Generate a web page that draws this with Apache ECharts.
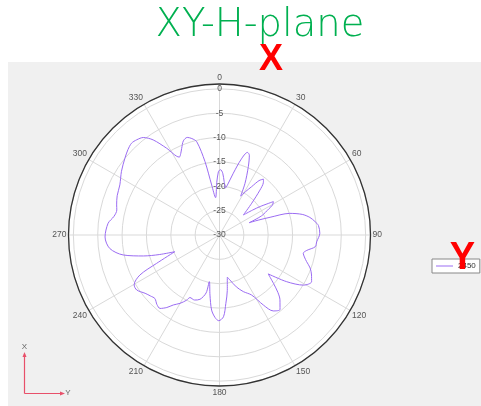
<!DOCTYPE html>
<html>
<head>
<meta charset="utf-8">
<script src="https://cdn.jsdelivr.net/npm/echarts@6/dist/echarts.min.js"></script>
<style>
html,body{margin:0;padding:0;background:#fff;}
#chart{width:481px;height:406px;}
</style>
</head>
<body>
<div id="chart"></div>
<script>
// Pattern angles (degrees, clockwise from top) and gain (dB) for 2450 MHz
const angles = [0,1,3,5,7,9,12.6,16,18.7,20.5,22.9,26.3,28.5,31,33.6,36,38.2,40,42,45.4,50,53,55,58.2,60.5,62,65.5,67.5,69,70.7,72.9,76,79,82,84.5,89,94,97,100,102.3,104.5,107,110,113.5,116.9,120.8,124.8,128.6,131.9,134.5,137,140.9,144.7,147.9,151.8,157.2,162,166.9,169.5,172,174.7,177.2,180.5,183,186,189,192.3,193,196.9,201,205.3,206.8,210,213.4,216,219,222,225.5,228.5,231.9,236.4,239.7,243.3,245.7,249.5,252,254.6,258.3,263,269,276,280,283.7,286.3,291,296.7,303,309,313,316.2,319,322,325.1,328.6,332.7,334.5,336.4,339,341.7,344,346.3,348.8,351.1,354,357,359,360];
const gain2450 = [-16.7,-16.6,-17.3,-19.0,-20.3,-19.6,-17,-13.8,-12.1,-12.5,-14.8,-18.2,-20.9,-19.6,-18.1,-16.2,-15.4,-16.0,-17.6,-20.7,-23.6,-21.5,-19.8,-17,-17.5,-18.5,-20.5,-23.4,-21.5,-19,-14.9,-12.5,-11.1,-10.2,-9.6,-9.4,-10,-10.2,-11.8,-12.4,-12.0,-11.3,-10.2,-9.4,-8.8,-9.9,-13.2,-17.2,-15.1,-13.2,-11.8,-10.3,-10.9,-13,-16,-17.4,-18.8,-20.5,-21.2,-18.5,-15.9,-13.2,-12.4,-13,-14.5,-17.5,-20.2,-17.8,-16.2,-15.7,-15.8,-15,-13.8,-12.8,-11.6,-10.6,-10.8,-11.4,-11.1,-10.6,-9.6,-9.7,-11.7,-15.8,-20.2,-17,-13.8,-9.8,-7.3,-6.5,-7,-8,-8.3,-8,-7.5,-7.1,-6,-5,-4.3,-3.9,-4.1,-4.6,-6.2,-9.1,-12,-11.5,-10.6,-9.3,-8.9,-9.4,-10.3,-14.6,-19.6,-22.3,-19.2,-17,-16.7];
const seriesName = '2450';
const angleTicks = [0,30,60,90,120,150,180,210,240,270,300,330];
const radiusMin = -30, radiusMax = 1, radiusStep = 5;
const titleText = 'XY-H-plane';

const chart = echarts.init(document.getElementById('chart'), null, {renderer:'canvas'});
const data = angles.map((a,i)=>[gain2450[i], a]);
const cx = 219.5, cy = 235, R = 151;
const option = {
  backgroundColor: '#f0f0f0',
  animation: false,
  polar: { center: [cx, cy], radius: R },
  angleAxis: {
    type: 'value', min: 0, max: 360, interval: 30, startAngle: 90, clockwise: true, z: 1,
    axisLine: { lineStyle: { color: '#333', width: 1.3 } },
    axisTick: { show: false },
    axisLabel: { margin: 2, align: 'center', verticalAlign: 'middle', fontSize: 8.5, color: '#555', fontFamily: 'Liberation Sans',
      formatter: v => angleTicks.indexOf(v) >= 0 ? String(v) : '' },
    splitLine: { lineStyle: { color: '#d9d9d9', width: 1 } }
  },
  radiusAxis: {
    type: 'value', min: radiusMin, max: radiusMax, interval: radiusStep, z: 1,
    axisLine: { show: false }, axisTick: { show: false },
    axisLabel: { margin: 0, align: 'center', verticalAlign: 'middle', fontSize: 8.5, color: '#555', fontFamily: 'Liberation Sans' },
    splitLine: { lineStyle: { color: '#d9d9d9', width: 1 } }
  },
  legend: {
    data: [{ name: seriesName, icon: 'rect' }], left: 432, top: 259, padding: [3,4,3,4], itemWidth: 17, itemHeight: 1,
    textStyle: { fontSize: 8, color: '#333', fontFamily: 'Liberation Sans', lineHeight: 8 },
    backgroundColor: '#fff', borderColor: '#888', borderWidth: 1, borderRadius: 0
  },
  series: [{
    name: seriesName, type: 'line', coordinateSystem: 'polar', data: data,
    symbol: 'none', smooth: 0.3, z: 3,
    lineStyle: { color: '#9b6cf2', width: 1 }, itemStyle: { color: '#9b6cf2' }
  }],
  graphic: [
    { type: 'circle', z: -1, shape: { cx: cx, cy: cy, r: R }, style: { fill: '#fff' } },
    { type: 'rect', z: 1, shape: { x: 0, y: 0, width: 481, height: 62 }, style: { fill: '#fff' } },
    { type: 'rect', z: 1, shape: { x: 0, y: 0, width: 8, height: 406 }, style: { fill: '#fff' } },
    { type: 'text', z: 100, x: 260, y: 26, style: { text: titleText, fill: '#00b050', font: '200 38.5px "DejaVu Sans"', textAlign: 'center', textVerticalAlign: 'middle' } },
    { type: 'text', z: 100, x: 271, y: 60, style: { text: 'X', fill: '#ff0000', font: 'bold 36px "Liberation Sans"', textAlign: 'center', textVerticalAlign: 'middle' } },
    { type: 'text', z: 100, x: 462.5, y: 259, style: { text: 'Y', fill: '#ff0000', font: 'bold 38px "Liberation Sans"', textAlign: 'center', textVerticalAlign: 'middle' } },
    { type: 'line', z: 10, shape: { x1: 24.5, y1: 354, x2: 24.5, y2: 393.5 }, style: { stroke: '#e8506a', lineWidth: 1.2 } },
    { type: 'line', z: 10, shape: { x1: 24.5, y1: 393.5, x2: 63, y2: 393.5 }, style: { stroke: '#e8506a', lineWidth: 1.2 } },
    { type: 'polygon', z: 10, shape: { points: [[22.5,357],[26.5,357],[24.5,352]] }, style: { fill: '#e8506a' } },
    { type: 'polygon', z: 10, shape: { points: [[60,391.5],[60,395.5],[65,393.5]] }, style: { fill: '#e8506a' } },
    { type: 'text', z: 10, x: 24.5, y: 346.5, style: { text: 'X', fill: '#666', font: '8px "Liberation Sans"', textAlign: 'center', textVerticalAlign: 'middle' } },
    { type: 'text', z: 10, x: 68, y: 393, style: { text: 'Y', fill: '#666', font: '8px "Liberation Sans"', textAlign: 'center', textVerticalAlign: 'middle' } }
  ]
};
chart.setOption(option);
</script>
</body>
</html>
